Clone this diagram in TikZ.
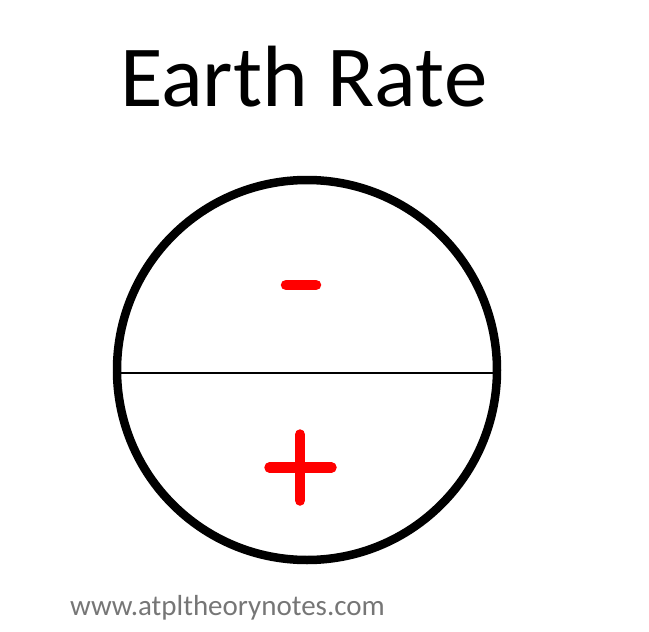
\documentclass[tikz,border=0pt]{standalone}
\usepackage{fontspec}
\setmainfont{Carlito}
\definecolor{urlgray}{HTML}{767676}
\definecolor{signred}{HTML}{FF0000}
\tikzset{
  ring/.style={draw=black, line width=8.5pt},
  divider/.style={draw=black, line width=2pt},
  signbar/.style={draw=signred, line width=10.5pt, line cap=round},
}
\begin{document}
\begin{tikzpicture}[x=1pt,y=-1pt]
\useasboundingbox (0,0) rectangle (649,632);
\node[anchor=base west, inner sep=0pt, font=\fontsize{87}{100}\selectfont] (title) at (120,106) {Earth Rate};
\node[circle, ring, minimum size=380pt, inner sep=0pt] (earth) at (307,370) {};
\draw[divider] (earth.west |- 0,373) -- (earth.east |- 0,373);
\coordinate (m1) at (286,285);
\coordinate (m2) at (316,285);
\draw[signbar] (m1) -- (m2);
\coordinate (ph1) at (269.5,467.5);
\coordinate (ph2) at (331.5,467.5);
\coordinate (pv1) at (300,434.5);
\coordinate (pv2) at (300,500.5);
\draw[signbar] (ph1) -- (ph2);
\draw[signbar] (pv1) -- (pv2);
\node[anchor=base west, inner sep=0pt, text=urlgray, font=\fontsize{29}{34}\selectfont] (url) at (70,615.5) {www.atpltheorynotes.com};
\end{tikzpicture}
\end{document}
